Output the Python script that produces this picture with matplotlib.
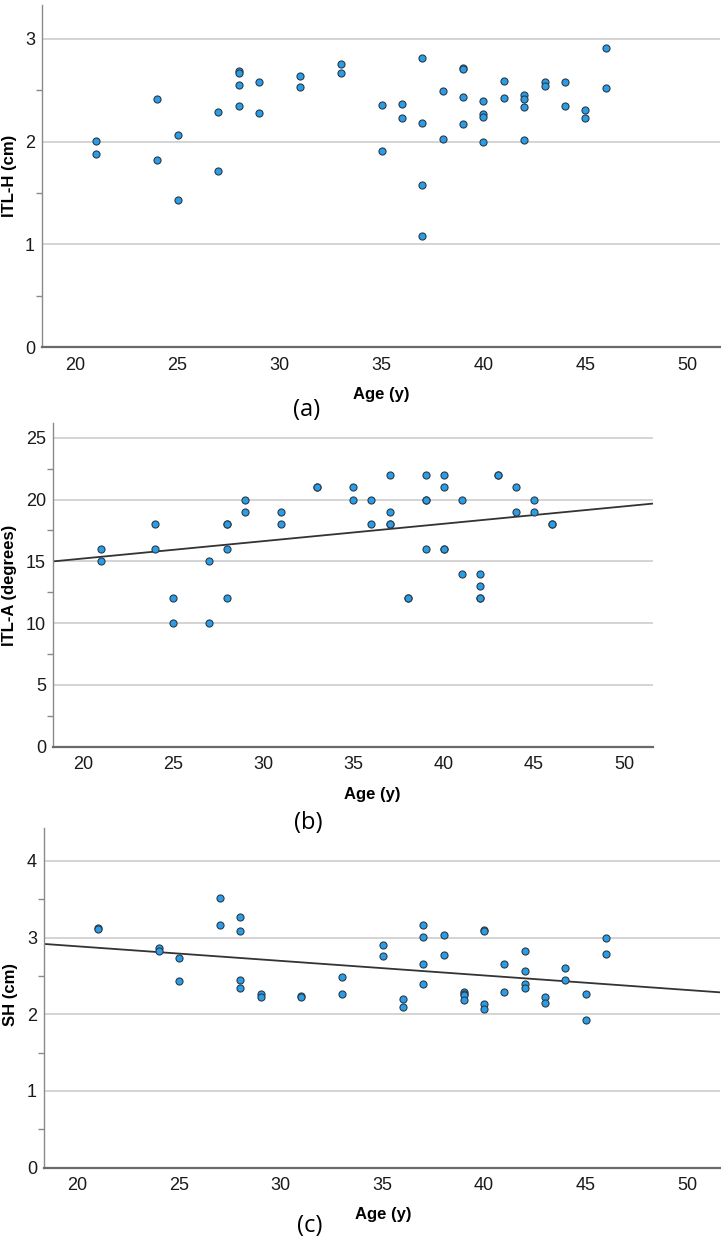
#!/usr/bin/env python3
"""Three stacked scatter plots of measurements against age."""

import matplotlib

matplotlib.use("Agg")
import matplotlib.pyplot as plt
import numpy as np
from matplotlib.ticker import MultipleLocator

AGE = [21, 21, 24, 24, 25, 25, 27, 27, 28, 28, 28, 28, 29, 29, 31, 31, 33, 33, 35, 35,
       36, 36, 37, 37, 37, 37, 38, 38, 39, 39, 39, 39, 40, 40, 40, 40, 41, 41, 42, 42,
       42, 42, 43, 43, 44, 44, 45, 45, 46, 46]

ITL_H = [2.01, 1.88, 2.41, 1.82, 2.06, 1.43, 2.29, 1.71, 2.69, 2.67, 2.55, 2.35, 2.58, 2.28,
         2.64, 2.53, 2.76, 2.67, 2.36, 1.91, 2.37, 2.23, 2.81, 2.18, 1.58, 1.08, 2.49, 2.03,
         2.72, 2.71, 2.43, 2.17, 2.40, 2.27, 2.24, 2.00, 2.59, 2.42, 2.45, 2.41, 2.34, 2.02,
         2.58, 2.54, 2.58, 2.35, 2.31, 2.23, 2.91, 2.52]

ITL_A = [16, 15, 18, 16, 12, 10, 15, 10, 18, 18, 16, 12, 20, 19, 19, 18, 21, 21, 21, 20,
         20, 18, 22, 19, 18, 18, 12, 12, 22, 20, 20, 16, 22, 21, 16, 16, 20, 14, 14, 13,
         12, 12, 22, 22, 21, 19, 20, 19, 18, 18]

SH = [3.12, 3.11, 2.86, 2.82, 2.74, 2.44, 3.52, 3.17, 3.27, 3.09, 2.45, 2.34, 2.26, 2.23,
      2.24, 2.23, 2.49, 2.26, 2.90, 2.76, 2.20, 2.09, 3.17, 3.01, 2.66, 2.40, 3.04, 2.77,
      2.29, 2.27, 2.25, 2.19, 3.10, 3.09, 2.13, 2.07, 2.65, 2.29, 2.82, 2.56, 2.40, 2.34,
      2.23, 2.15, 2.60, 2.45, 2.26, 1.92, 2.99, 2.79]

X_TICKS = [20, 25, 30, 35, 40, 45, 50]

W, H = 721, 1239
TICK_FONT = ["Liberation Sans", "DejaVu Sans"]
LABEL_FONT = ["Liberation Sans Narrow", "Liberation Sans", "DejaVu Sans"]
PANEL_FONT = ["Open Sans", "DejaVu Sans"]


def px_axes(fig, left, right, top, bottom):
    return fig.add_axes([left / W, 1 - bottom / H, (right - left) / W, (bottom - top) / H])


def style(ax, ylim, major, minor):
    ax.set_xlim(18.35, 51.6)
    ax.set_ylim(*ylim)
    ax.set_xticks(X_TICKS)
    ax.yaxis.set_major_locator(MultipleLocator(major))
    ax.yaxis.set_minor_locator(MultipleLocator(minor))
    ax.grid(True, axis="y", which="major", color="#d4d4d4", linewidth=1.4)
    ax.set_axisbelow(True)
    for side in ("top", "right"):
        ax.spines[side].set_visible(False)
    ax.spines["left"].set_color("#8a8a8a")
    ax.spines["left"].set_linewidth(1.0)
    ax.spines["bottom"].set_color("#6a6a6a")
    ax.spines["bottom"].set_linewidth(1.6)
    ax.tick_params(axis="x", length=0, pad=7)
    ax.tick_params(axis="y", which="major", length=0, pad=5)
    ax.tick_params(axis="y", which="minor", length=4, color="#8a8a8a", width=1.0)
    for lab in ax.get_xticklabels() + ax.get_yticklabels():
        lab.set_family(TICK_FONT)
        lab.set_fontsize(13)
        lab.set_color("#1a1a1a")


def scatter(ax, y):
    ax.scatter(AGE, y, s=26, facecolor="#2b9de6", edgecolor="#2a3a48",
               linewidth=0.8, zorder=3)


def fit_line(ax, y):
    slope, intercept = np.polyfit(AGE, y, 1)
    xs = np.array(ax.get_xlim())
    ax.plot(xs, intercept + slope * xs, color="#333333", linewidth=1.3, zorder=2)


def labels(fig, ylabel, ylab_y, age_xy, panel, panel_xy):
    fig.text(10 / W, 1 - ylab_y / H, ylabel, rotation=90, ha="center", va="center",
             family=LABEL_FONT, fontweight="bold", fontsize=12)
    fig.text(age_xy[0] / W, 1 - age_xy[1] / H, "Age (y)", ha="center", va="center",
             family=LABEL_FONT, fontweight="bold", fontsize=12)
    fig.text(panel_xy[0] / W, 1 - panel_xy[1] / H, panel, ha="center", va="center",
             family=PANEL_FONT, fontsize=17)


fig = plt.figure(figsize=(W / 100, H / 100), dpi=100)

ax_a = px_axes(fig, 42, 720, 5, 347)
scatter(ax_a, ITL_H)
style(ax_a, (0, 3.33), 1, 0.5)
labels(fig, "ITL-H (cm)", 176, (381, 395), "(a)", (307, 410))

ax_b = px_axes(fig, 53, 653, 423, 746.5)
scatter(ax_b, ITL_A)
style(ax_b, (0, 26.2), 5, 2.5)
fit_line(ax_b, ITL_A)
labels(fig, "ITL-A (degrees)", 585, (372, 795), "(b)", (308, 823))

ax_c = px_axes(fig, 44, 720, 828, 1167.5)
scatter(ax_c, SH)
style(ax_c, (0, 4.43), 1, 0.5)
fit_line(ax_c, SH)
labels(fig, "SH (cm)", 995, (383, 1215), "(c)", (310, 1226))

fig.savefig("out.png", dpi=100)
plt.close(fig)
